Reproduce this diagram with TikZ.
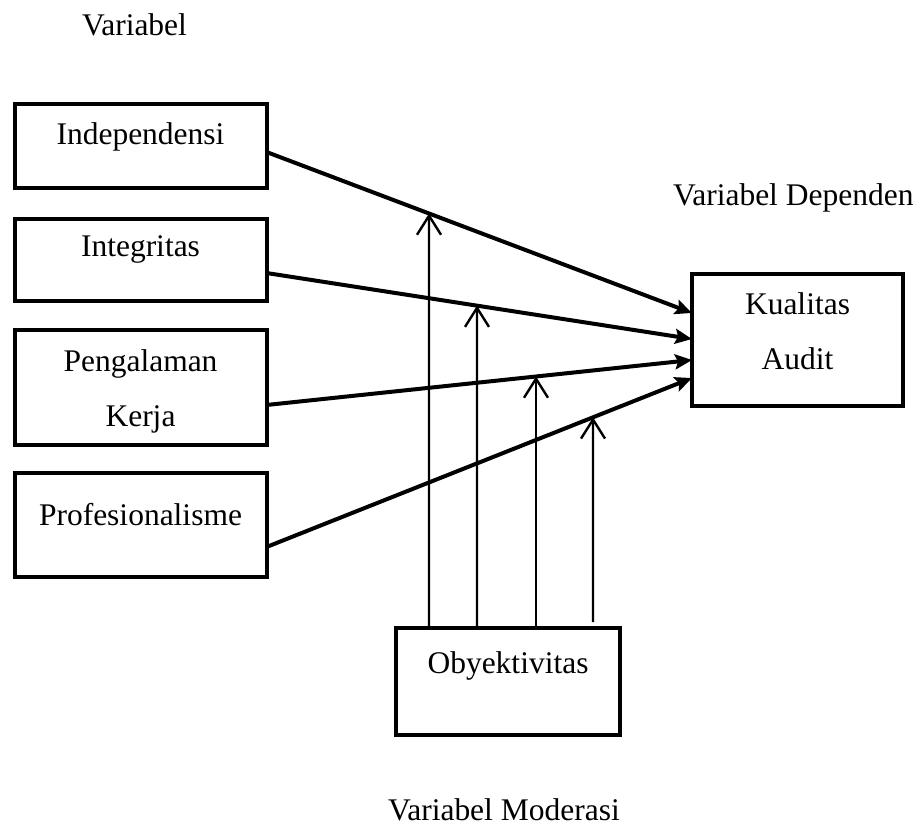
\documentclass[tikz,border=0pt]{standalone}
\usepackage{fontspec}
\setmainfont{Liberation Serif}
\usetikzlibrary{arrows.meta}
\begin{document}
\begin{tikzpicture}[x=1pt,y=-1pt,
  box/.style={draw,line width=4pt,inner sep=0pt,outer sep=0pt,minimum width=#1},
  txt/.style={inner sep=0pt,outer sep=0pt,font=\fontsize{31.5}{55}\selectfont,align=center},
  mainarrow/.style={line width=4pt,-{Stealth[length=17pt,width=15pt,inset=3pt]}},
  modarrow/.style={line width=2.4pt,-{Straight Barb[length=19pt,width=24pt]}}]
\useasboundingbox (0,0) rectangle (924,826);
% boxes
\node[box=252pt,minimum height=84pt] (ind) at (140.5,146.5) {};
\node[box=252pt,minimum height=82pt] (int) at (140.5,260) {};
\node[box=252pt,minimum height=115pt] (pen) at (140.5,387.5) {};
\node[box=252pt,minimum height=104pt] (pro) at (140.5,525) {};
\node[box=211pt,minimum height=132pt] (kua) at (797.5,340) {};
\node[box=224pt,minimum height=107pt] (oby) at (508,681.5) {};
% box texts
\node[txt,anchor=base] (tind) at (140.5,145) {Independensi};
\node[txt,anchor=base] (tint) at (140.5,257) {Integritas};
\node[txt,anchor=base] (tpen) at (140.5,426) {Pengalaman\\Kerja};
\node[txt,anchor=base] (tpro) at (140.5,525) {Profesionalisme};
\node[txt,anchor=base] (tkua) at (797.5,370) {Kualitas\\Audit};
\node[txt,anchor=base] (toby) at (508,673) {Obyektivitas};
% headings
\node[txt,anchor=base west] (hvar) at (82,36) {Variabel};
\node[txt,anchor=base west] (hdep) at (673,206) {Variabel Dependen};
\node[txt,anchor=base west] (hmod) at (388,820) {Variabel Moderasi};
% connector end points
\coordinate (s1) at (ind.east |- 0,152);
\coordinate (s2) at (int.east |- 0,273);
\coordinate (s3) at (pen.east |- 0,405);
\coordinate (s4) at (pro.east |- 0,547);
\coordinate (e1) at (kua.west |- 0,313);
\coordinate (e2) at (kua.west |- 0,339);
\coordinate (e3) at (kua.west |- 0,360);
\coordinate (e4) at (kua.west |- 0,378);
\draw[mainarrow] (s1) -- (e1);
\draw[mainarrow] (s2) -- (e2);
\draw[mainarrow] (s3) -- (e3);
\draw[mainarrow] (s4) -- (e4);
% moderation
\coordinate (m1) at (oby.north -| 429,0);
\coordinate (m2) at (oby.north -| 477,0);
\coordinate (m3) at (oby.north -| 536,0);
\coordinate (m4) at (593,622);
\draw[modarrow] (m1) -- (intersection of m1--429,0 and s1--e1);
\draw[modarrow] (m2) -- (intersection of m2--477,0 and s2--e2);
\draw[modarrow] (m3) -- (intersection of m3--536,0 and s3--e3);
\draw[modarrow] (m4) -- (intersection of m4--593,0 and s4--e4);
\end{tikzpicture}
\end{document}
